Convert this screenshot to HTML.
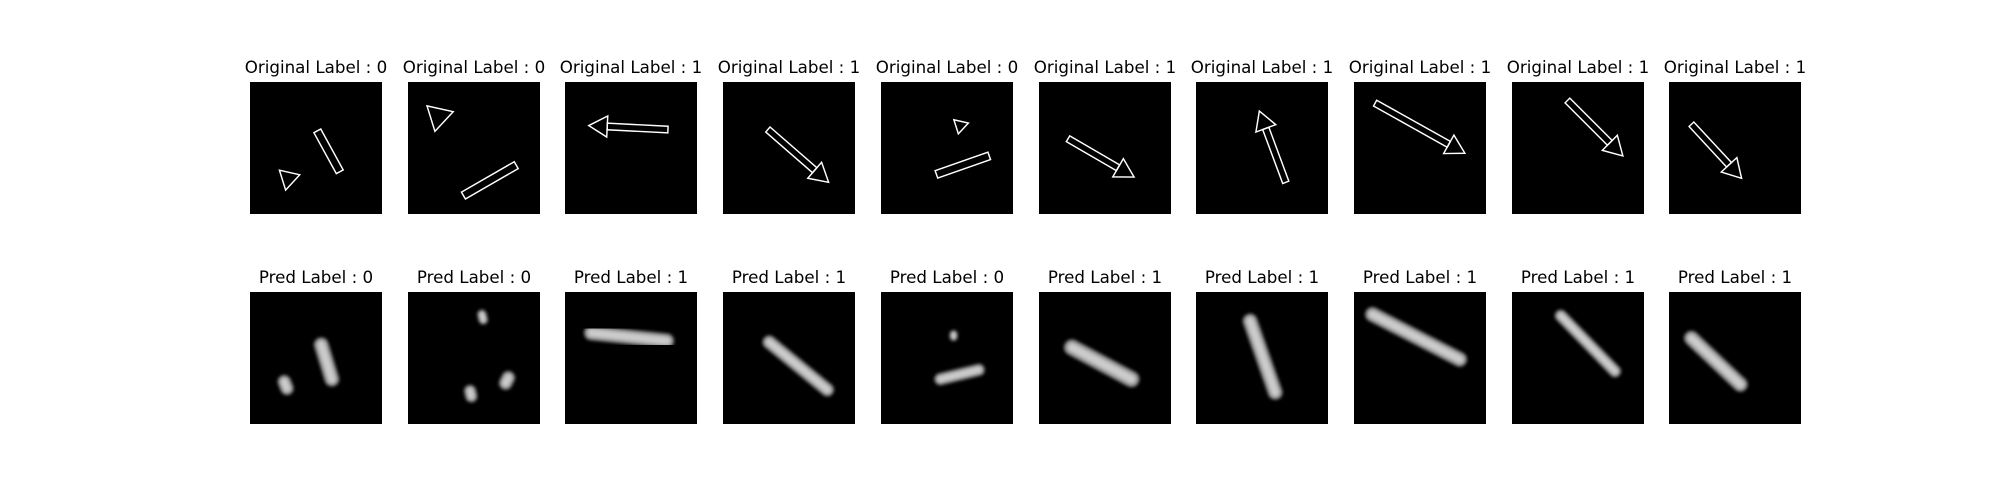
<!DOCTYPE html>
<html><head><meta charset="utf-8">
<style>
html,body{margin:0;padding:0;background:#fff;width:2000px;height:500px;overflow:hidden}
.t{position:absolute;width:200px;text-align:center;font:16.7px "DejaVu Sans","Liberation Sans",sans-serif;color:#000;line-height:20px}
svg.p{position:absolute;width:132px;height:132px;background:#000}
</style></head>
<body>
<div id="root"></div>
<script>
const origLabels=[0,0,1,1,0,1,1,1,1,1];
const predLabels=[0,0,1,1,0,1,1,1,1,1];
const origShapes=[
 [['tri',29,73,7],['rect',51,37,68,68]],
 [['tri',23,26,9],['rect',42,86,82,63]],
 [['arrow',78,36,18,33]],
 [['arrow',34,36,80,76]],
 [['tri',60,33,5],['rect',42,70,82,56]],
 [['arrow',22,43,72,72]],
 [['arrow',68,76,48,22]],
 [['arrow',16,16,84,54]],
 [['arrow',42,14,84,56]],
 [['arrow',17,32,55,73]]
];
const predBlobs=[
 [[26,68,28,73,10],[54,40,62,66,11]],
 [[56,17,57,21,7],[47,75,48,79,9],[76,65,74,69,10]],
 [[20,31,77,37,11]],
 [[35,38,79,74,10]],
 [[55,32,55,34,6],[45,66,74,59,9]],
 [[25,42,70,66,12]],
 [[41,22,60,76,11]],
 [[14,17,80,51,11]],
 [[37,18,78,60,9]],
 [[17,35,54,70,11]]
];
const root=document.getElementById('root');
const NS='http://www.w3.org/2000/svg';
function mk(tag,attrs){const e=document.createElementNS(NS,tag);for(const k in attrs)e.setAttribute(k,attrs[k]);return e;}
function rectPoly(x1,y1,x2,y2,w){const dx=x2-x1,dy=y2-y1,L=Math.hypot(dx,dy),nx=-dy/L*w/2,ny=dx/L*w/2;
 return [[x1+nx,y1+ny],[x2+nx,y2+ny],[x2-nx,y2-ny],[x1-nx,y1-ny]];}
function pts(a){return a.map(p=>p[0].toFixed(1)+','+p[1].toFixed(1)).join(' ');}
for(let i=0;i<10;i++){
 const x=Math.round(250+157.7*i);
 const t1=document.createElement('div');t1.className='t';t1.style.left=(x+66-100)+'px';t1.style.top='57px';
 t1.textContent='Original Label : '+origLabels[i];
 
 
 root.appendChild(t1);
 const t2=document.createElement('div');t2.className='t';t2.style.left=(x+66-100)+'px';t2.style.top='267px';
 t2.textContent='Pred Label : '+predLabels[i];
 
 
 root.appendChild(t2);
 const s1=mk('svg',{viewBox:'0 0 100 100',class:'p'});s1.style.left=x+'px';s1.style.top='82px';
 
 
 for(const sh of origShapes[i]){
  const st={fill:'none',stroke:'#fff','stroke-width':'1.1'};
  if(sh[0]==='tri'){const [_,cx,cy,r]=sh;const p=[];for(let k=0;k<3;k++){const a=-0.3+k*2.094;p.push([cx+r*Math.cos(a)*1.3,cy+r*Math.sin(a)*1.3]);}
   s1.appendChild(mk('polygon',Object.assign({points:pts(p)},st)));}
  else if(sh[0]==='rect'){s1.appendChild(mk('polygon',Object.assign({points:pts(rectPoly(sh[1],sh[2],sh[3],sh[4],6))},st)));}
  else{const [_,x1,y1,x2,y2]=sh;const dx=x2-x1,dy=y2-y1,L=Math.hypot(dx,dy),ux=dx/L,uy=dy/L,h=14;
   const bx=x2-ux*h,by=y2-uy*h;
   s1.appendChild(mk('polygon',Object.assign({points:pts(rectPoly(x1,y1,bx,by,5))},st)));
   s1.appendChild(mk('polygon',Object.assign({points:pts([[x2,y2],[bx-uy*8,by+ux*8],[bx+uy*8,by-ux*8]])},st)));}
 }
 root.appendChild(s1);
 const s2=mk('svg',{viewBox:'0 0 100 100',class:'p'});s2.style.left=x+'px';s2.style.top='292px';
 
 
 const f=mk('filter',{id:'b'+i,x:'-50%',y:'-50%',width:'200%',height:'200%'});f.appendChild(mk('feGaussianBlur',{stdDeviation:'1.3'}));s2.appendChild(f);
 const g=mk('g',{filter:'url(#b'+i+')'});
 for(const b of predBlobs[i]){
  g.appendChild(mk('line',{x1:b[0],y1:b[1],x2:b[2],y2:b[3],stroke:'#999','stroke-width':b[4],'stroke-linecap':'round'}));
  g.appendChild(mk('line',{x1:b[0],y1:b[1],x2:b[2],y2:b[3],stroke:'#ccc','stroke-width':b[4]*0.5,'stroke-linecap':'round'}));
 }
 s2.appendChild(g);
 root.appendChild(s2);
}
</script>
</body></html>
